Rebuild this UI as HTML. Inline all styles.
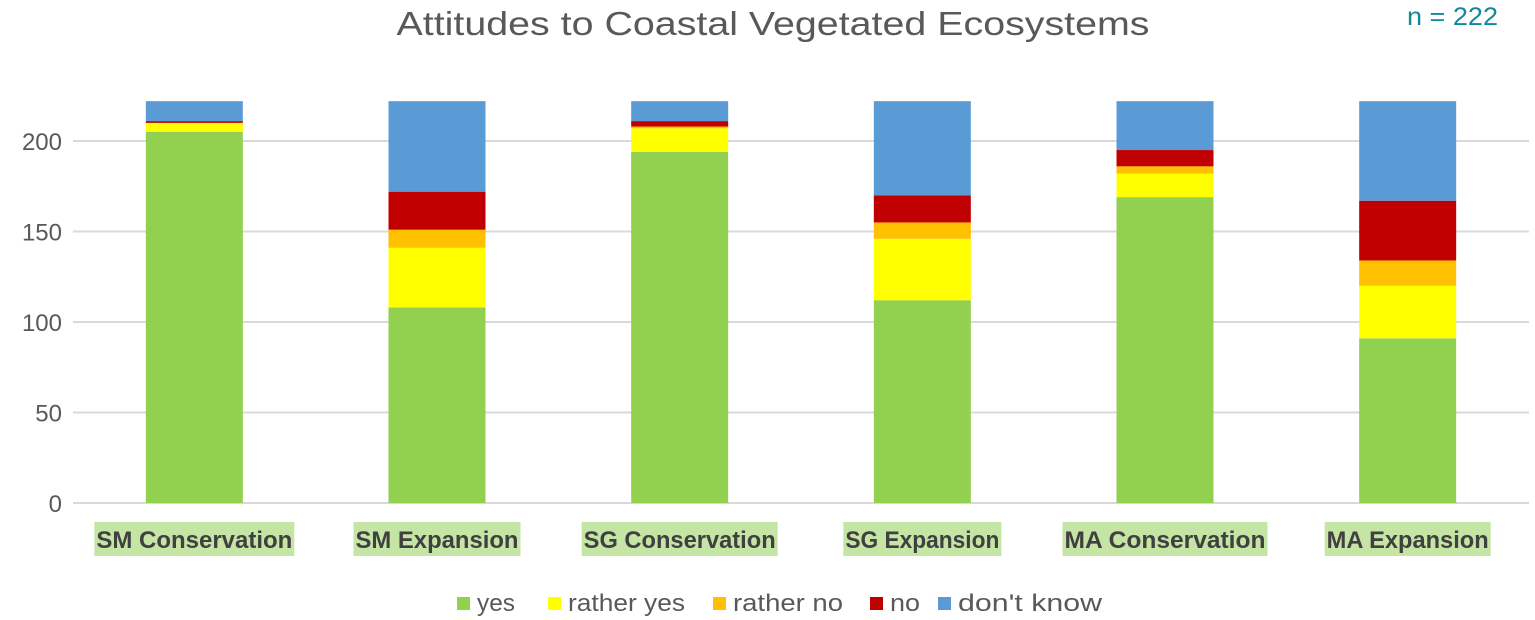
<!DOCTYPE html>
<html><head><meta charset="utf-8"><style>
body{margin:0;background:#fff;font-family:"Liberation Sans",sans-serif;}
svg{display:block}
</style></head><body>
<svg width="1535" height="620" id="c">
<text x="773" y="35" text-anchor="middle" font-size="33" fill="#595959" textLength="753" lengthAdjust="spacingAndGlyphs">Attitudes to Coastal Vegetated Ecosystems</text>
<text x="1407" y="25" font-size="25" fill="#0e8a9a" textLength="91" lengthAdjust="spacingAndGlyphs">n = 222</text>
<g id="grid"></g><g id="bars"></g><g id="cats"></g><g id="legend"></g>
</svg>
<script>
const categories=["SM Conservation","SM Expansion","SG Conservation","SG Expansion","MA Conservation","MA Expansion"];
const seriesNames=["yes","rather yes","rather no","no","don't know"];
const yes=[205,108,194,112,169,91];
const ratherYes=[5,33,13,34,13,29];
const ratherNo=[0,10,1,9,4,14];
const no=[1,21,3,15,9,33];
const dontKnow=[11,50,11,52,27,55];
const yTicks=[0,50,100,150,200];
const colors=["#92d050","#ffff00","#ffc000","#c00000","#5b9bd5"];
const series=[yes,ratherYes,ratherNo,no,dontKnow];
const labelW=[200,167,196,158,205,166];
const legX=[457,548,713,870,938];
const legW=[38,117,110,30,144];
const NS="http://www.w3.org/2000/svg";
const x0=73,x1=1529,y0=503,pxPerUnit=1.81;
const y=v=>y0-v*pxPerUnit;
const band=(x1-x0)/categories.length;
const xc=i=>x0+band*(i+0.5);
const barW=97;
function mk(t,a,p){const e=document.createElementNS(NS,t);for(const k in a)e.setAttribute(k,a[k]);p.appendChild(e);return e;}
const grid=document.getElementById('grid');
yTicks.forEach(v=>{
  const l=mk('line',{x1:x0,x2:x1,y1:y(v),y2:y(v),stroke:'#d9d9d9','stroke-width':2},grid);
  
  
  const t=mk('text',{x:62,y:y(v)+9,'text-anchor':'end','font-size':24,fill:'#595959'},grid);
  t.textContent=v;
  
  
});
const bars=document.getElementById('bars');
categories.forEach((c,i)=>{
  let cum=0;
  series.forEach((s,k)=>{
    const v=s[i];
    const r=mk('rect',{x:xc(i)-barW/2,y:y(cum+v),width:barW,height:v*pxPerUnit,fill:colors[k]},bars);
    
    
    cum+=v;
  });
});
const cats=document.getElementById('cats');
categories.forEach((c,i)=>{
  const w=labelW[i];
  const r=mk('rect',{x:xc(i)-w/2,y:522,width:w,height:34,fill:'#c5e5a5'},cats);
  
  
  const t=mk('text',{x:xc(i),y:548,'text-anchor':'middle','font-size':24,'font-weight':'bold',fill:'#404040',textLength:w-4,lengthAdjust:'spacingAndGlyphs'},cats);
  t.textContent=c;
  
  
});
const leg=document.getElementById('legend');
seriesNames.forEach((n,k)=>{
  const g=mk('g',{},leg);
  
  
  mk('rect',{x:legX[k],y:597,width:13,height:13,fill:colors[k]},g);
  const t=mk('text',{x:legX[k]+20,y:611,'font-size':24,fill:'#595959',textLength:legW[k],lengthAdjust:'spacingAndGlyphs'},g);
  t.textContent=n;
});
</script>
</body></html>
